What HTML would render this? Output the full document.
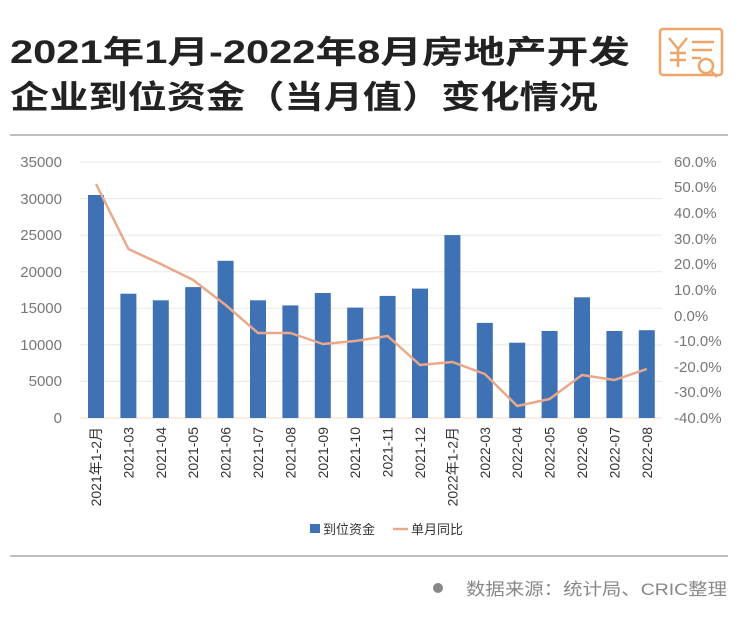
<!DOCTYPE html>
<html><head><meta charset="utf-8"><style>
html,body{margin:0;padding:0;background:#fff;}
svg{display:block;font-family:"Liberation Sans","Noto Sans CJK SC",sans-serif;}
</style></head><body>
<svg width="740" height="623" viewBox="0 0 740 623" xmlns="http://www.w3.org/2000/svg">
<text x="10" y="63" font-size="32" font-weight="600" fill="#222" textLength="620" lengthAdjust="spacingAndGlyphs">2021年1月-2022年8月房地产开发</text>
<text x="10" y="108" font-size="32" font-weight="600" fill="#222" textLength="588" lengthAdjust="spacingAndGlyphs">企业到位资金（当月值）变化情况</text>
<g fill="none" stroke="#eda56a" stroke-width="2.5">
<rect x="660" y="29" width="62" height="46" rx="3"/>
<path d="M669 38l9 11 9-11M678 49v18M670 53h16M670 60h16M692 42h22M692 50h20M692 58h9"/>
<circle cx="706" cy="66" r="7" fill="#fff"/><path d="M711 71l6 6"/>
</g>
<line x1="10" y1="135" x2="728" y2="135" stroke="#aaa" stroke-width="1.5"/>
<g stroke="#e8e8e8" stroke-width="1">
<line x1="80" y1="162" x2="662" y2="162"/><line x1="80" y1="198.6" x2="662" y2="198.6"/>
<line x1="80" y1="235.1" x2="662" y2="235.1"/><line x1="80" y1="271.7" x2="662" y2="271.7"/>
<line x1="80" y1="308.3" x2="662" y2="308.3"/><line x1="80" y1="344.9" x2="662" y2="344.9"/>
<line x1="80" y1="381.4" x2="662" y2="381.4"/>
</g>
<line x1="80" y1="418" x2="662" y2="418" stroke="#f3d9c4" stroke-width="1"/>
<g font-size="15" fill="#777" text-anchor="end">
<text x="62" y="167">35000</text><text x="62" y="204">30000</text><text x="62" y="240">25000</text>
<text x="62" y="277">20000</text><text x="62" y="313">15000</text><text x="62" y="350">10000</text>
<text x="62" y="386">5000</text><text x="62" y="423">0</text>
</g>
<g font-size="15" fill="#777">
<text x="674" y="167">60.0%</text><text x="674" y="192">50.0%</text><text x="674" y="218">40.0%</text>
<text x="674" y="244">30.0%</text><text x="674" y="269">20.0%</text><text x="674" y="295">10.0%</text>
<text x="674" y="321">0.0%</text><text x="674" y="346">-10.0%</text><text x="674" y="372">-20.0%</text>
<text x="674" y="397">-30.0%</text><text x="674" y="423">-40.0%</text>
</g>
<g fill="#3f72b5">
<rect x="88" y="195" width="16" height="223"/>
<rect x="120.4" y="293.7" width="16" height="124.3"/>
<rect x="152.8" y="300.3" width="16" height="117.7"/>
<rect x="185.2" y="287.1" width="16" height="130.9"/>
<rect x="217.6" y="260.8" width="16" height="157.2"/>
<rect x="250" y="300.3" width="16" height="117.7"/>
<rect x="282.4" y="305.4" width="16" height="112.6"/>
<rect x="314.8" y="293" width="16" height="125"/>
<rect x="347.2" y="307.6" width="16" height="110.4"/>
<rect x="379.6" y="295.9" width="16" height="122.1"/>
<rect x="412" y="288.6" width="16" height="129.4"/>
<rect x="444.4" y="235.1" width="16" height="182.9"/>
<rect x="476.8" y="322.9" width="16" height="95.1"/>
<rect x="509.2" y="342.7" width="16" height="75.3"/>
<rect x="541.6" y="331" width="16" height="87"/>
<rect x="574" y="297.3" width="16" height="120.7"/>
<rect x="606.4" y="331" width="16" height="87"/>
<rect x="638.8" y="330.2" width="16" height="87.8"/>
</g>
<polyline fill="none" stroke="#eaa88a" stroke-width="2.5" stroke-linejoin="round" points="96,184 128.4,249 160.8,264 193.2,280 225.6,305 258,333 290.4,333 322.8,344 355.2,341 387.6,336 420,365 452.4,362 484.8,374 517.2,406 549.6,399 582,375 614.4,380 646.8,369"/>
<g font-size="14" fill="#333" text-anchor="end">
<text transform="translate(101,427) rotate(-90)">2021年1-2月</text>
<text transform="translate(133.4,427) rotate(-90)">2021-03</text>
<text transform="translate(165.8,427) rotate(-90)">2021-04</text>
<text transform="translate(198.2,427) rotate(-90)">2021-05</text>
<text transform="translate(230.6,427) rotate(-90)">2021-06</text>
<text transform="translate(263,427) rotate(-90)">2021-07</text>
<text transform="translate(295.4,427) rotate(-90)">2021-08</text>
<text transform="translate(327.8,427) rotate(-90)">2021-09</text>
<text transform="translate(360.2,427) rotate(-90)">2021-10</text>
<text transform="translate(392.6,427) rotate(-90)">2021-11</text>
<text transform="translate(425,427) rotate(-90)">2021-12</text>
<text transform="translate(457.4,427) rotate(-90)">2022年1-2月</text>
<text transform="translate(489.8,427) rotate(-90)">2022-03</text>
<text transform="translate(522.2,427) rotate(-90)">2022-04</text>
<text transform="translate(554.6,427) rotate(-90)">2022-05</text>
<text transform="translate(587,427) rotate(-90)">2022-06</text>
<text transform="translate(619.4,427) rotate(-90)">2022-07</text>
<text transform="translate(651.8,427) rotate(-90)">2022-08</text>
</g>
<rect x="310" y="524" width="10" height="9" fill="#3f72b5"/>
<text x="323" y="534" font-size="13" fill="#333">到位资金</text>
<line x1="393" y1="529" x2="408" y2="529" stroke="#eaa88a" stroke-width="2.5"/>
<text x="411" y="534" font-size="13" fill="#333">单月同比</text>
<line x1="10" y1="556" x2="728" y2="556" stroke="#aaa" stroke-width="1.5"/>
<circle cx="438" cy="588" r="5" fill="#888"/>
<text x="466" y="595" font-size="17" fill="#888" textLength="261" lengthAdjust="spacingAndGlyphs">数据来源：统计局、CRIC整理</text>
</svg>
</body></html>
